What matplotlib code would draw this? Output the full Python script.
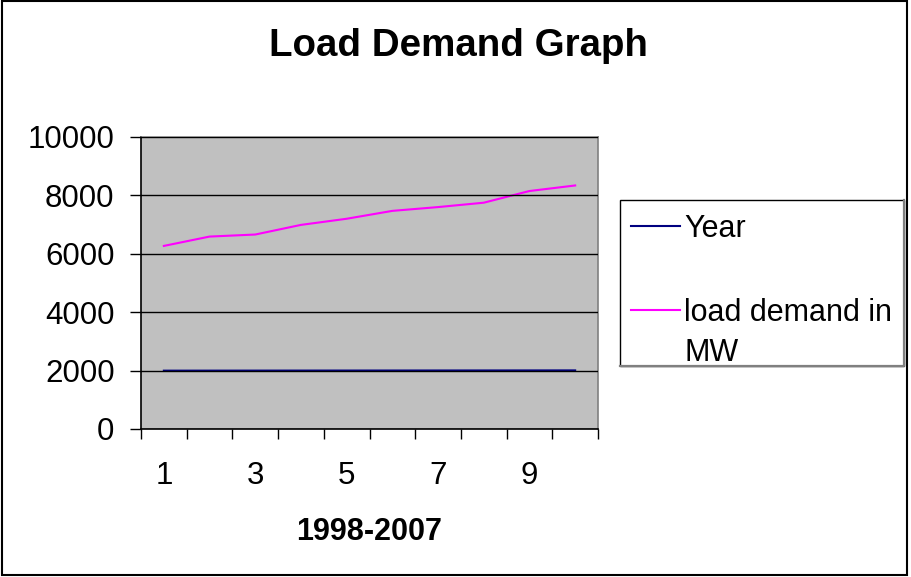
import matplotlib
matplotlib.use("Agg")
import matplotlib.pyplot as plt
from matplotlib.legend_handler import HandlerLine2D
from matplotlib.patches import Rectangle
from matplotlib.lines import Line2D

plt.rcParams['font.family'] = ['Liberation Sans', 'DejaVu Sans']

# data
categories = list(range(1, 11))
years = [1998, 1999, 2000, 2001, 2002, 2003, 2004, 2005, 2006, 2007]
load_mw = [6270, 6590, 6660, 6990, 7200, 7470, 7600, 7750, 8150, 8340]
x_tick_labels = ["1", "3", "5", "7", "9"]
y_ticks = [0, 2000, 4000, 6000, 8000, 10000]


class HandlerFirstLine(HandlerLine2D):
    # put the legend line next to the first text line, like Excel does
    def __init__(self, shift, **kw):
        super().__init__(**kw)
        self.shift = shift

    def create_artists(self, legend, orig_handle, xdescent, ydescent,
                       width, height, fontsize, trans):
        arts = super().create_artists(legend, orig_handle, xdescent, ydescent,
                                      width, height, fontsize, trans)
        for a in arts:
            a.set_ydata([y + self.shift * fontsize for y in a.get_ydata()])
        return arts


fig = plt.figure(figsize=(9.11, 5.77), dpi=100)
ax = fig.add_axes([141 / 911, 1 - 429 / 577, 457 / 911, 292 / 577])
ax.set_facecolor("#C0C0C0")

l1, = ax.plot(categories, years, color="#000080", lw=1.5, label="Year")
l2, = ax.plot(categories, load_mw, color="#FF00FF", lw=1.5, label="load demand in\nMW")

ax.set_xlim(0.5, 10.5)
ax.set_ylim(0, 10000)
ax.set_yticks(y_ticks)
ax.set_xticks([1, 3, 5, 7, 9])
ax.set_xticklabels(x_tick_labels)
ax.set_xticks([c - 0.5 for c in categories] + [10.5], minor=True)
ax.tick_params(axis="x", which="major", length=0, pad=23, labelsize=22.5)
ax.tick_params(axis="x", which="minor", length=7, width=1, color="black")
ax.tick_params(axis="y", which="major", length=8, width=1, pad=11, labelsize=22.5)
ax.yaxis.grid(True, color="black", lw=1)
ax.set_axisbelow(False)

for s in ["top", "right"]:
    ax.spines[s].set_color("#808080")
for s in ["left", "bottom"]:
    ax.spines[s].set_color("black")
for s in ax.spines.values():
    s.set_linewidth(1.2)

ax.set_xlabel("1998-2007", fontsize=22, fontweight="bold", labelpad=19)
fig.text(0.503, 1 - 46 / 577, "Load Demand Graph", fontsize=27.7,
         fontweight="bold", ha="center", va="center")

# legend text/handles, frame drawn separately (Excel style with shadow edge)
leg = fig.legend(handles=[l1, l2], loc="upper left",
                 bbox_to_anchor=(617 / 911, 1 - 200 / 577),
                 fontsize=22, frameon=False,
                 borderpad=0.45, labelspacing=1.78, handlelength=1.6,
                 handletextpad=0.15, borderaxespad=0,
                 handler_map={l2: HandlerFirstLine(0.8)})
for t in leg.get_texts():
    t.set_linespacing(1.45)

lx0, lx1 = 620 / 911, 904 / 911
ly0, ly1 = 1 - 366 / 577, 1 - 200 / 577
fig.patches.append(Rectangle((lx0, ly0), lx1 - lx0, ly1 - ly0, transform=fig.transFigure,
                             fill=False, edgecolor="black", lw=1))
fig.add_artist(Line2D([lx1, lx1, lx0], [ly1, ly0, ly0], transform=fig.transFigure,
                      color="#808080", lw=1.6))

fig.patches.append(Rectangle((0.002, 0.003), 0.994, 0.995, transform=fig.transFigure,
                             fill=False, edgecolor="black", lw=1.5))

fig.savefig("out.png", dpi=100)
